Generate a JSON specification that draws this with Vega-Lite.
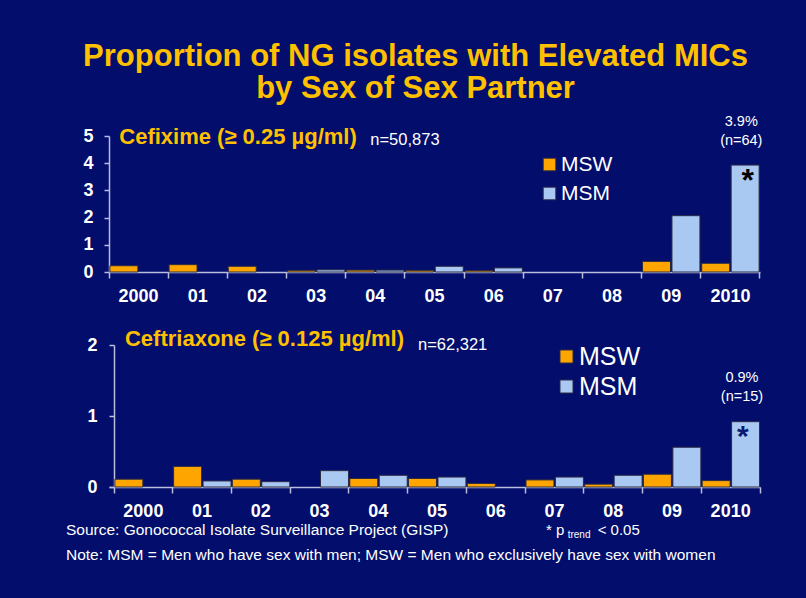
{
  "$schema": "https://vega.github.io/schema/vega-lite/v6.json",
  "background": "#020d6c",
  "padding": {"left": 65, "top": 41, "right": 60, "bottom": 60},
  "title": {
    "text": ["Proportion of NG isolates with Elevated MICs", "by Sex of Sex Partner"],
    "fontSize": 31, "lineHeight": 32, "font": "Liberation Sans", "fontWeight": "bold",
    "color": "#FFC000", "anchor": "middle", "offset": 9, "dx": 1
  },
  "config": {
    "view": {"stroke": null},
    "font": "Liberation Sans",
    "axis": {
      "domainColor": "#b8bedc", "tickColor": "#b8bedc", "domainWidth": 1.5, "tickWidth": 1.5,
      "labelColor": "white", "labelFont": "Liberation Sans", "labelFontWeight": "bold",
      "labelFontSize": 18, "grid": false, "title": null, "labelOverlap": false
    },
    "legend": {"padding": 0}
  },
  "resolve": {"legend": {"color": "independent"}},
  "spacing": 23,
  "vconcat": [
    {
      "width": 651,
      "height": 136,
      "encoding": {
        "x": {"field": "year", "type": "nominal", "sort": null,
          "scale": {"domain": ["2000","01","02","03","04","05","06","07","08","09","2010"], "paddingInner": 0, "paddingOuter": 0},
          "axis": {"bandPosition": 1, "tickExtra": true, "labelAngle": 0, "tickSize": 6, "labelPadding": 9}},
        "y": {"field": "pct", "type": "quantitative",
          "scale": {"domain": [0, 5], "nice": false},
          "axis": {"tickCount": 5, "tickMinStep": 1, "format": "d", "tickSize": 5, "labelPadding": 11}}
      },
      "layer": [
        {
          "data": {"values": [
            {"year": "2000", "sex": "MSW", "pct": 0.23},
            {"year": "01", "sex": "MSW", "pct": 0.27},
            {"year": "02", "sex": "MSW", "pct": 0.21},
            {"year": "03", "sex": "MSW", "pct": 0.06},
            {"year": "03", "sex": "MSM", "pct": 0.08},
            {"year": "04", "sex": "MSW", "pct": 0.07},
            {"year": "04", "sex": "MSM", "pct": 0.07},
            {"year": "05", "sex": "MSW", "pct": 0.06},
            {"year": "05", "sex": "MSM", "pct": 0.21},
            {"year": "06", "sex": "MSW", "pct": 0.05},
            {"year": "06", "sex": "MSM", "pct": 0.15},
            {"year": "09", "sex": "MSW", "pct": 0.39},
            {"year": "09", "sex": "MSM", "pct": 2.07},
            {"year": "2010", "sex": "MSW", "pct": 0.32},
            {"year": "2010", "sex": "MSM", "pct": 3.93}
          ]},
          "mark": {"type": "bar", "stroke": "#2b2b45", "strokeWidth": 1},
          "encoding": {
            "xOffset": {"field": "sex", "type": "nominal", "sort": null,
              "scale": {"domain": ["MSW", "MSM"], "paddingInner": 0.05, "paddingOuter": 0.03}},
            "color": {"field": "sex", "type": "nominal", "sort": null,
              "scale": {"domain": ["MSW", "MSM"], "range": ["#FFA500", "#A9C9F3"]},
              "legend": {"title": null, "orient": "none", "legendX": 430, "legendY": 18,
                "symbolType": "square", "symbolSize": 160, "symbolStrokeColor": "#2b2b45", "symbolStrokeWidth": 1,
                "labelFontSize": 21, "labelColor": "white", "labelFont": "Liberation Sans", "labelOffset": 1, "rowPadding": 7}}
          }
        },
        {
          "data": {"values": [{"year": "2000", "pct": 4.95, "label": "Cefixime (≥ 0.25 µg/ml)"}]},
          "mark": {"type": "text", "align": "left", "baseline": "middle", "dx": -19.3, "fontSize": 22, "fontWeight": "bold", "color": "#FFC000"},
          "encoding": {"text": {"field": "label"}}
        },
        {
          "data": {"values": [{"year": "2000", "pct": 4.85, "label": "n=50,873"}]},
          "mark": {"type": "text", "align": "left", "baseline": "middle", "dx": 231.7, "fontSize": 16.5, "color": "white"},
          "encoding": {"text": {"field": "label"}}
        },
        {
          "data": {"values": [{"year": "2000", "pct": 5.5, "label": "3.9%"}, {"year": "2000", "pct": 4.81, "label": "(n=64)"}]},
          "mark": {"type": "text", "align": "center", "baseline": "middle", "dx": 602.7, "fontSize": 14.5, "color": "white"},
          "encoding": {"text": {"field": "label"}}
        },
        {
          "data": {"values": [{"year": "2000", "pct": 3.91, "label": "*"}]},
          "mark": {"type": "text", "align": "center", "baseline": "top", "dx": 609.2, "fontSize": 32, "fontWeight": "bold", "color": "#000000"},
          "encoding": {"text": {"field": "label"}}
        }
      ]
    },
    {
      "width": 651,
      "height": 142,
      "encoding": {
        "x": {"field": "year", "type": "nominal", "sort": null,
          "scale": {"domain": ["2000","01","02","03","04","05","06","07","08","09","2010"], "paddingInner": 0, "paddingOuter": 0.0426, "align": 1},
          "axis": {"bandPosition": 1, "tickExtra": true, "labelAngle": 0, "tickSize": 6, "labelPadding": 9}},
        "y": {"field": "pct", "type": "quantitative",
          "scale": {"domain": [0, 2], "nice": false},
          "axis": {"tickCount": 2, "tickMinStep": 1, "format": "d", "tickSize": 5, "labelPadding": 12, "offset": -5}}
      },
      "layer": [
        {
          "data": {"values": [
            {"year": "2000", "sex": "MSW", "pct": 0.11},
            {"year": "01", "sex": "MSW", "pct": 0.29},
            {"year": "01", "sex": "MSM", "pct": 0.085},
            {"year": "02", "sex": "MSW", "pct": 0.11},
            {"year": "02", "sex": "MSM", "pct": 0.075},
            {"year": "03", "sex": "MSM", "pct": 0.23},
            {"year": "04", "sex": "MSW", "pct": 0.12},
            {"year": "04", "sex": "MSM", "pct": 0.165},
            {"year": "05", "sex": "MSW", "pct": 0.12},
            {"year": "05", "sex": "MSM", "pct": 0.14},
            {"year": "06", "sex": "MSW", "pct": 0.05},
            {"year": "07", "sex": "MSW", "pct": 0.1},
            {"year": "07", "sex": "MSM", "pct": 0.14},
            {"year": "08", "sex": "MSW", "pct": 0.04},
            {"year": "08", "sex": "MSM", "pct": 0.165},
            {"year": "09", "sex": "MSW", "pct": 0.18},
            {"year": "09", "sex": "MSM", "pct": 0.56},
            {"year": "2010", "sex": "MSW", "pct": 0.09},
            {"year": "2010", "sex": "MSM", "pct": 0.92}
          ]},
          "mark": {"type": "bar", "stroke": "#2b2b45", "strokeWidth": 1},
          "encoding": {
            "xOffset": {"field": "sex", "type": "nominal", "sort": null,
              "scale": {"domain": ["MSW", "MSM"], "paddingInner": 0.05, "paddingOuter": 0.03}},
            "color": {"field": "sex", "type": "nominal", "sort": null,
              "scale": {"domain": ["MSW", "MSM"], "range": ["#FFA500", "#A9C9F3"]},
              "legend": {"title": null, "orient": "none", "legendX": 445, "legendY": -1,
                "symbolType": "square", "symbolSize": 170, "symbolStrokeColor": "#2b2b45", "symbolStrokeWidth": 1,
                "labelFontSize": 25, "labelColor": "white", "labelFont": "Liberation Sans", "labelOffset": 0, "rowPadding": 4}}
          }
        },
        {
          "data": {"values": [{"year": "2000", "pct": 2.08, "label": "Ceftriaxone (≥ 0.125 µg/ml)"}]},
          "mark": {"type": "text", "align": "left", "baseline": "middle", "dx": -18.4, "fontSize": 22, "fontWeight": "bold", "color": "#FFC000"},
          "encoding": {"text": {"field": "label"}}
        },
        {
          "data": {"values": [{"year": "2000", "pct": 2.0, "label": "n=62,321"}]},
          "mark": {"type": "text", "align": "left", "baseline": "middle", "dx": 274.6, "fontSize": 16.5, "color": "white"},
          "encoding": {"text": {"field": "label"}}
        },
        {
          "data": {"values": [{"year": "2000", "pct": 1.535, "label": "0.9%"}, {"year": "2000", "pct": 1.27, "label": "(n=15)"}]},
          "mark": {"type": "text", "align": "center", "baseline": "middle", "dx": 598.6, "fontSize": 14.5, "color": "white"},
          "encoding": {"text": {"field": "label"}}
        },
        {
          "data": {"values": [{"year": "2000", "pct": 0.915, "label": "*"}]},
          "mark": {"type": "text", "align": "center", "baseline": "top", "dx": 599.6, "fontSize": 30, "fontWeight": "bold", "color": "#0b1a70"},
          "encoding": {"text": {"field": "label"}}
        },
        {
          "data": {"values": [
            {"year": "2000", "pct": -0.61, "label": "Source: Gonococcal Isolate Surveillance Project (GISP)"},
            {"year": "2000", "pct": -0.96, "label": "Note:  MSM = Men who have sex with men;  MSW = Men who exclusively have sex with women"}
          ]},
          "mark": {"type": "text", "align": "left", "baseline": "middle", "dx": -77.4, "fontSize": 15.5, "color": "white"},
          "encoding": {"text": {"field": "label"}}
        },
        {
          "data": {"values": [{"year": "2000", "pct": -0.6, "label": "* p"}]},
          "mark": {"type": "text", "align": "left", "baseline": "middle", "dx": 402.6, "fontSize": 15, "color": "white"},
          "encoding": {"text": {"field": "label"}}
        },
        {
          "data": {"values": [{"year": "2000", "pct": -0.68, "label": "trend"}]},
          "mark": {"type": "text", "align": "left", "baseline": "middle", "dx": 424.3, "fontSize": 10, "color": "white"},
          "encoding": {"text": {"field": "label"}}
        },
        {
          "data": {"values": [{"year": "2000", "pct": -0.6, "label": "< 0.05"}]},
          "mark": {"type": "text", "align": "left", "baseline": "middle", "dx": 454.3, "fontSize": 15, "color": "white"},
          "encoding": {"text": {"field": "label"}}
        }
      ]
    }
  ]
}
